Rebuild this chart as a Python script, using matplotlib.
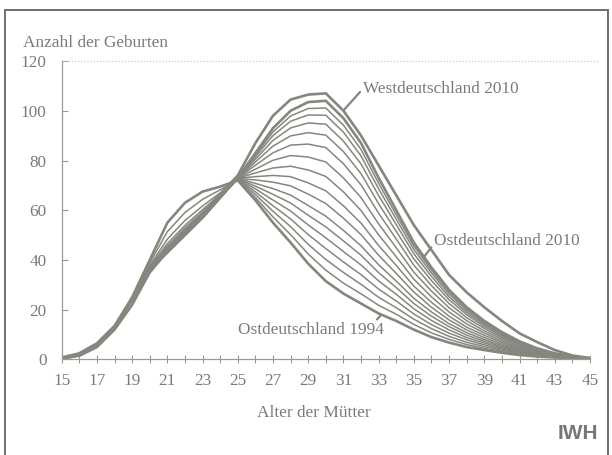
import matplotlib
matplotlib.use("Agg")
import matplotlib.pyplot as plt
from matplotlib.patches import Rectangle

ages = list(range(15, 46))
x_tick_labels = ["15", "17", "19", "21", "23", "25", "27", "29", "31", "33", "35", "37", "39", "41", "43", "45"]
y_tick_values = [0, 20, 40, 60, 80, 100, 120]

ost_1994 = [0.8, 2.5, 6.5, 13.5, 25, 40, 55, 63, 67.5, 69.5, 72, 64, 55, 47, 38.5, 31.5, 26.5, 22.5, 18.5, 15.5, 12, 9, 6.8, 5, 3.8, 2.7, 1.8, 1.2, 0.8, 0.5, 0.3]
ost_1995 = [0.7, 2.4, 6.4, 13.4, 24.8, 38.8, 51.4, 59.1, 64.4, 68.2, 72.2, 65.1, 57.3, 50.2, 42.4, 35.9, 30.7, 26.4, 21.8, 18.2, 14.1, 10.7, 8.1, 6.0, 4.5, 3.2, 2.1, 1.4, 0.9, 0.5, 0.3]
ost_1996 = [0.7, 2.3, 6.3, 13.3, 24.6, 37.8, 48.4, 55.9, 61.7, 67.0, 72.4, 66.3, 59.6, 53.4, 46.3, 40.2, 35.0, 30.2, 25.0, 20.8, 16.2, 12.4, 9.3, 6.9, 5.2, 3.7, 2.5, 1.6, 1.0, 0.6, 0.3]
ost_1997 = [0.6, 2.2, 6.2, 13.2, 24.5, 37.2, 46.6, 53.9, 60.2, 66.4, 72.5, 67.4, 61.8, 56.5, 50.2, 44.6, 39.2, 34.1, 28.3, 23.5, 18.3, 14.0, 10.6, 7.9, 5.9, 4.2, 2.8, 1.8, 1.1, 0.6, 0.3]
ost_1998 = [0.6, 2.2, 6.2, 13.2, 24.5, 36.9, 45.6, 52.9, 59.3, 66.0, 72.6, 68.6, 64.1, 59.7, 54.1, 48.9, 43.4, 38.0, 31.6, 26.2, 20.4, 15.7, 11.9, 8.8, 6.6, 4.7, 3.1, 2.0, 1.2, 0.7, 0.3]
ost_1999 = [0.6, 2.2, 6.2, 13.2, 24.5, 36.7, 45.0, 52.2, 58.8, 65.8, 72.7, 69.7, 66.4, 62.9, 58.0, 53.3, 47.7, 41.9, 34.9, 28.9, 22.5, 17.4, 13.2, 9.8, 7.3, 5.2, 3.5, 2.2, 1.3, 0.7, 0.4]
ost_2000 = [0.6, 2.2, 6.2, 13.2, 24.5, 36.5, 44.6, 51.7, 58.4, 65.6, 72.8, 70.8, 68.7, 66.1, 61.9, 57.6, 51.9, 45.7, 38.1, 31.5, 24.6, 19.1, 14.4, 10.8, 8.0, 5.7, 3.8, 2.4, 1.4, 0.8, 0.4]
ost_2001 = [0.6, 2.2, 6.2, 13.2, 24.5, 36.4, 44.2, 51.3, 58.1, 65.5, 72.8, 72.2, 71.3, 69.8, 66.5, 62.7, 56.8, 50.2, 41.9, 34.6, 27.1, 21.0, 15.9, 11.9, 8.8, 6.3, 4.2, 2.6, 1.5, 0.8, 0.4]
ost_2002 = [0.6, 2.2, 6.2, 13.2, 24.5, 36.3, 44.0, 51.0, 57.8, 65.4, 72.9, 73.5, 74.0, 73.5, 71.0, 67.8, 61.8, 54.8, 45.8, 37.8, 29.5, 23.0, 17.4, 13.0, 9.7, 6.9, 4.6, 2.9, 1.7, 0.9, 0.4]
ost_2003 = [0.6, 2.2, 6.2, 13.2, 24.5, 36.2, 43.7, 50.8, 57.6, 65.3, 72.9, 75.0, 77.0, 77.7, 76.2, 73.6, 67.4, 59.9, 50.1, 41.3, 32.3, 25.2, 19.1, 14.3, 10.6, 7.5, 5.0, 3.1, 1.8, 0.9, 0.4]
ost_2004 = [0.5, 2.1, 6.1, 13.1, 24.2, 36.2, 43.6, 50.7, 57.5, 65.2, 73.0, 76.5, 80.1, 82.0, 81.4, 79.4, 73.0, 65.1, 54.5, 44.9, 35.1, 27.5, 20.8, 15.6, 11.5, 8.2, 5.4, 3.4, 1.9, 1.0, 0.4]
ost_2005 = [0.5, 2.1, 6.1, 13.1, 24.2, 36.2, 43.5, 50.5, 57.4, 65.2, 73.0, 78.1, 83.1, 86.2, 86.6, 85.2, 78.7, 70.2, 58.8, 48.4, 37.9, 29.7, 22.5, 16.8, 12.5, 8.8, 5.9, 3.6, 2.1, 1.0, 0.4]
ost_2006 = [0.5, 2.1, 6.1, 13.1, 24.2, 36.1, 43.4, 50.4, 57.3, 65.1, 73.0, 79.4, 85.8, 89.9, 91.2, 90.2, 83.6, 74.7, 62.6, 51.5, 40.4, 31.7, 24.0, 18.0, 13.3, 9.4, 6.3, 3.9, 2.2, 1.1, 0.5]
ost_2007 = [0.5, 2.1, 6.1, 13.1, 24.2, 36.1, 43.2, 50.3, 57.2, 65.1, 73.0, 80.5, 88.1, 93.1, 95.1, 94.6, 87.8, 78.6, 65.9, 54.2, 42.5, 33.4, 25.2, 18.9, 14.0, 9.9, 6.6, 4.1, 2.3, 1.1, 0.5]
ost_2008 = [0.5, 2.1, 6.1, 13.1, 24.2, 36.0, 43.1, 50.1, 57.1, 65.0, 73.0, 81.5, 90.0, 95.8, 98.3, 98.2, 91.4, 81.8, 68.6, 56.4, 44.2, 34.8, 26.3, 19.7, 14.6, 10.3, 6.9, 4.2, 2.4, 1.1, 0.5]
ost_2009 = [0.5, 2.1, 6.1, 13.1, 24.2, 36.0, 43.0, 50.0, 57.0, 65.0, 73.0, 82.2, 91.5, 97.9, 100.9, 101.1, 94.2, 84.4, 70.8, 58.2, 45.6, 35.9, 27.2, 20.4, 15.0, 10.7, 7.1, 4.4, 2.4, 1.2, 0.5]
ost_2010 = [0.5, 2.0, 6.0, 13.0, 24.0, 36.0, 43.0, 50.0, 57.0, 65.0, 73.0, 83.0, 93.0, 100.0, 103.5, 104.0, 97.0, 87.0, 73.0, 60.0, 47.0, 37.0, 28.0, 21.0, 15.5, 11.0, 7.3, 4.5, 2.5, 1.2, 0.5]
west_2010 = [0.4, 1.5, 5.0, 12.0, 22.0, 35.0, 43.5, 51.0, 58.5, 66.5, 74.0, 87.0, 98.0, 104.5, 106.5, 107.0, 100.0, 90.0, 78.0, 66.0, 54.0, 44.0, 34.0, 27.0, 21.0, 15.5, 10.5, 7.0, 3.8, 1.6, 0.6]

thin_series = [ost_1995, ost_1996, ost_1997, ost_1998, ost_1999, ost_2000, ost_2001,
               ost_2002, ost_2003, ost_2004, ost_2005, ost_2006, ost_2007, ost_2008, ost_2009]

LINE = "#85877f"
TEXT = "#7b7b76"
SERIF = ["Liberation Serif", "DejaVu Serif"]
FS = 12.4

fig = plt.figure(figsize=(6.12, 4.55), dpi=100)
fig.patch.set_facecolor("white")
fig.patches.append(Rectangle((0.008, -0.02), 0.986, 0.998, transform=fig.transFigure,
                             fill=False, edgecolor="#6e6e6a", linewidth=1.4))

ax = fig.add_axes([0.1008, 0.2099, 0.8632, 0.656])
ax.set_facecolor("white")

for s in thin_series:
    ax.plot(ages, s, color=LINE, linewidth=1.1, solid_joinstyle="miter")
ax.plot(ages, ost_1994, color=LINE, linewidth=1.9)
ax.plot(ages, ost_2010, color=LINE, linewidth=1.9)
ax.plot(ages, west_2010, color=LINE, linewidth=1.9)

ax.set_xlim(15, 45)
ax.set_ylim(0, 120)
ax.plot([15, 45.5], [120, 120], color="#c9c9c4", linewidth=0.9, linestyle=(0, (1, 1.5)),
        clip_on=False)

for side in ["top", "right"]:
    ax.spines[side].set_visible(False)
for side in ["left", "bottom"]:
    ax.spines[side].set_color("#9a9a95")
    ax.spines[side].set_linewidth(0.9)

ax.set_xticks(list(range(15, 46, 2)))
ax.set_xticklabels(x_tick_labels)
ax.set_xticks(list(range(16, 45, 2)), minor=True)
ax.set_yticks(y_tick_values)
ax.set_yticklabels([str(v) for v in y_tick_values])
ax.tick_params(axis="x", which="both", direction="inout", length=6, width=0.8,
               color="#9a9a95", pad=7)
ax.tick_params(axis="y", direction="in", length=4, width=0.8, color="#9a9a95", pad=11)
for lab in ax.get_xticklabels() + ax.get_yticklabels():
    lab.set_fontfamily(SERIF)
    lab.set_fontsize(FS)
    lab.set_color(TEXT)

fig.text(0.037, 0.906, "Anzahl der Geburten", fontsize=FS, family=SERIF, color=TEXT,
         ha="left", va="center")
fig.text(0.512, 0.092, "Alter der Mütter", fontsize=FS, family=SERIF, color=TEXT,
         ha="center", va="center")
fig.text(0.978, 0.048, "IWH", fontsize=15, fontweight="bold",
         family=["Liberation Sans", "DejaVu Sans"],
         color="#767676", ha="right", va="center")

arrow = dict(arrowstyle="-", color=LINE, linewidth=1.6, shrinkA=0, shrinkB=0)
ax.annotate("Westdeutschland 2010", xy=(31.05, 100.5), xytext=(32.1, 108.8),
            fontsize=FS, family=SERIF, color=TEXT, ha="left", va="center",
            arrowprops=dict(arrow, relpos=(0.0, 0.5)))
ax.annotate("Ostdeutschland 2010", xy=(35.6, 41.5), xytext=(36.15, 47.8),
            fontsize=FS, family=SERIF, color=TEXT, ha="left", va="center",
            arrowprops=dict(arrow, relpos=(0.0, 0.3)))
ax.annotate("Ostdeutschland 1994", xy=(33.1, 17.6), xytext=(33.3, 11.8),
            fontsize=FS, family=SERIF, color=TEXT, ha="right", va="center",
            arrowprops=dict(arrow, relpos=(0.93, 0.95)))

fig.savefig("out.png", dpi=100, facecolor="white")
